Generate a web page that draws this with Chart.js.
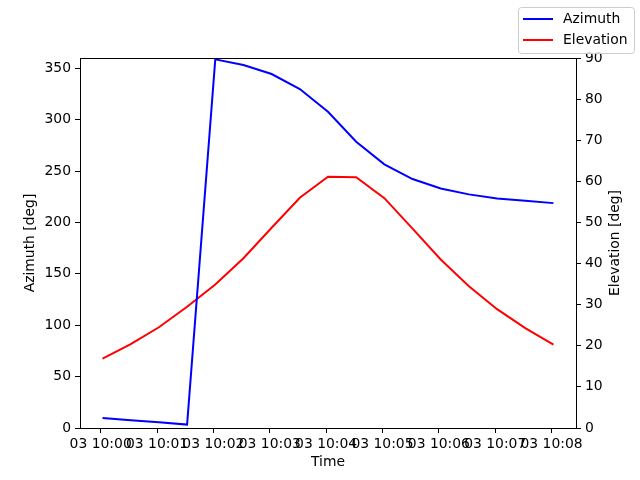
<!DOCTYPE html>
<html lang="en">
<head>
  <meta charset="UTF-8">
  <title>Azimuth / Elevation</title>
  <script src="https://cdn.jsdelivr.net/npm/chart.js"></script>
  <style>
    html, body { margin: 0; padding: 0; background: #fff; }
    canvas { display: block; }
  </style>
</head>
<body>
  <canvas id="chart" width="640" height="480"></canvas>

  <script>
    // seconds after 03 10:00:00
    const timesSec = [2, 32, 62, 92, 122, 152, 182, 212, 242, 272, 302, 332, 362, 392, 422, 452, 482];
    const azimuth = [9.7, 7.6, 5.5, 3.3, 358.7, 353.2, 344.4, 329.8, 307.7, 278.5, 256.5, 242.2, 233.1, 227.3, 223.4, 221.1, 218.8];
    const elevation = [16.9, 20.4, 24.5, 29.5, 34.9, 41.3, 48.7, 56.0, 61.1, 61.0, 55.9, 48.5, 41.0, 34.5, 28.9, 24.3, 20.3];

    const xTickValues = [0, 60, 120, 180, 240, 300, 360, 420, 480];
    const xTickLabels = ["03 10:00", "03 10:01", "03 10:02", "03 10:03", "03 10:04", "03 10:05", "03 10:06", "03 10:07", "03 10:08"];
    const azTicks = [0, 50, 100, 150, 200, 250, 300, 350];
    const elTicks = [0, 10, 20, 30, 40, 50, 60, 70, 80, 90];

    const FONT = "'DejaVu Sans', sans-serif";
    const fontSpec = { family: FONT, size: 13.9 };

    Chart.defaults.color = "#000";
    Chart.defaults.font.family = FONT;

    const setTicks = values => scale => {
      scale.ticks = values.map(v => ({ value: v }));
    };

    // matplotlib-style figure legend, top right outside the axes
    const figLegend = {
      id: "figLegend",
      afterDraw(chart) {
        const ctx = chart.ctx;
        const x = 518, y = 7, w = 116, h = 46;
        ctx.save();
        ctx.beginPath();
        ctx.roundRect(x + 0.5, y + 0.5, w, h, 3);
        ctx.fillStyle = "rgba(255,255,255,0.8)";
        ctx.fill();
        ctx.strokeStyle = "#cccccc";
        ctx.lineWidth = 1;
        ctx.stroke();
        ctx.font = "13.9px " + FONT;
        ctx.textBaseline = "middle";
        ctx.textAlign = "left";
        chart.data.datasets.forEach((ds, i) => {
          const ly = 19 + i * 21;
          ctx.beginPath();
          ctx.moveTo(523, ly);
          ctx.lineTo(553, ly);
          ctx.strokeStyle = ds.borderColor;
          ctx.lineWidth = 2;
          ctx.stroke();
          ctx.fillStyle = "#000";
          ctx.fillText(ds.label, 563, ly);
        });
        ctx.restore();
      }
    };

    // top spine + right y-axis title reading bottom-to-top, like matplotlib
    const frameAndTitle = {
      id: "frameAndTitle",
      afterDraw(chart) {
        const ctx = chart.ctx;
        const area = chart.chartArea;
        ctx.save();
        ctx.beginPath();
        ctx.moveTo(area.left, Math.round(area.top) + 0.5);
        ctx.lineTo(area.right, Math.round(area.top) + 0.5);
        ctx.strokeStyle = "#000";
        ctx.lineWidth = 1;
        ctx.stroke();

        ctx.translate(615, (area.top + area.bottom) / 2);
        ctx.rotate(-Math.PI / 2);
        ctx.font = "13.9px " + FONT;
        ctx.fillStyle = "#000";
        ctx.textAlign = "center";
        ctx.textBaseline = "middle";
        ctx.fillText("Elevation [deg]", 0, 0);
        ctx.restore();
      }
    };

    new Chart(document.getElementById("chart"), {
      type: "line",
      data: {
        datasets: [
          {
            label: "Azimuth",
            data: timesSec.map((t, i) => ({ x: t, y: azimuth[i] })),
            borderColor: "#0000ff",
            borderWidth: 2,
            pointRadius: 0,
            tension: 0,
            yAxisID: "yAz"
          },
          {
            label: "Elevation",
            data: timesSec.map((t, i) => ({ x: t, y: elevation[i] })),
            borderColor: "#ff0000",
            borderWidth: 2,
            pointRadius: 0,
            tension: 0,
            yAxisID: "yEl"
          }
        ]
      },
      options: {
        responsive: false,
        animation: false,
        devicePixelRatio: 1,
        layout: { padding: { top: 58, left: 0, right: 0, bottom: 0 } },
        plugins: {
          legend: { display: false },
          tooltip: { enabled: false }
        },
        scales: {
          x: {
            type: "linear",
            min: -22,
            max: 506,
            afterBuildTicks: setTicks(xTickValues),
            afterFit: s => { s.height = 52; },
            ticks: {
              autoSkip: false,
              maxRotation: 0,
              padding: 3,
              font: fontSpec,
              callback: v => xTickLabels[xTickValues.indexOf(v)]
            },
            grid: { drawOnChartArea: false, tickLength: 5, color: "#000", tickWidth: 1 },
            border: { color: "#000", width: 1 },
            title: { display: true, text: "Time", font: fontSpec, padding: { top: 0, bottom: 9 } }
          },
          yAz: {
            type: "linear",
            position: "left",
            min: 0,
            max: 360,
            afterBuildTicks: setTicks(azTicks),
            afterFit: s => { s.width = 80; },
            ticks: { padding: 4, font: fontSpec },
            grid: { drawOnChartArea: false, tickLength: 5, color: "#000" },
            border: { color: "#000", width: 1 },
            title: { display: true, text: "Azimuth [deg]", font: fontSpec, padding: { top: 22, bottom: 0 } }
          },
          yEl: {
            type: "linear",
            position: "right",
            min: 0,
            max: 90,
            afterBuildTicks: setTicks(elTicks),
            afterFit: s => { s.width = 64; },
            ticks: { padding: 4, font: fontSpec },
            grid: { drawOnChartArea: false, tickLength: 5, color: "#000" },
            border: { color: "#000", width: 1 },
            title: { display: false }
          }
        }
      },
      plugins: [figLegend, frameAndTitle]
    });
  </script>
</body>
</html>
